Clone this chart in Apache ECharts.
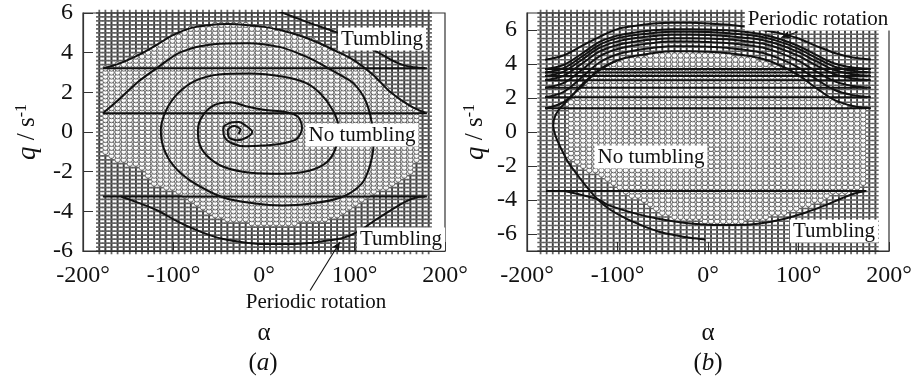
<!DOCTYPE html>
<html>
<head>
<meta charset="utf-8">
<title>Tumbling phase portraits</title>
<style>
  html, body { margin: 0; padding: 0; background: #fff; }
  #chart { width: 919px; height: 382px; }
</style>
<script src="https://cdn.jsdelivr.net/npm/echarts@6/dist/echarts.min.js"></script>
</head>
<body>
<div id="chart"></div>
<script>
  // ---- axes ----
  const xTicks = [-200, -100, 0, 100, 200];
  const yTicksA = [-6, -4, -2, 0, 2, 4, 6];
  const yTicksB = [-6, -4, -2, 0, 2, 4, 6];

  // ---- initial-condition lattice (alpha start, step, count / q start, step, count) ----
  const latticeA = { a0: -182, da: 6.74, na: 55, q0: -6, dq: 0.2, nq: 61 };
  const latticeB = { a0: -185, da: 6.727, na: 56, q0: -7, dq: 0.25, nq: 57 };

  // ---- "no tumbling" region: alpha, lower q, upper q ----
  const regionAlphaA = [-176, -160, -140, -120, -100, -80, -60, -40, -20, 0, 20, 40, 60, 80, 100, 120, 140, 160, 172];
  const regionLowA = [-1.1, -1.45, -1.75, -2.7, -3.0, -3.6, -4.2, -4.45, -4.6, -4.63, -4.63, -4.6, -4.5, -4.3, -3.8, -3.2, -2.7, -2.2, -1.2];
  const regionHighA = [3.25, 3.45, 3.85, 4.35, 4.9, 5.25, 5.4, 5.44, 5.4, 5.3, 5.12, 4.85, 4.5, 4.07, 3.6, 2.9, 2.0, 1.35, 1.0];

  const regionAlphaB = [-155, -140, -120, -100, -80, -60, -40, -20, 0, 20, 40, 60, 80, 100, 120, 140, 160, 174];
  const regionLowB = [-1.5, -2.0, -2.6, -3.3, -3.9, -4.6, -5.0, -5.2, -5.3, -5.3, -5.25, -5.1, -4.9, -4.5, -4.1, -3.7, -3.4, -3.2];
  const regionHighB = [1.7, 2.6, 3.6, 4.15, 4.4, 4.58, 4.65, 4.65, 4.62, 4.55, 4.42, 4.2, 3.8, 3.25, 2.5, 1.8, 1.45, 1.4];

  // ---- panel (a) trajectories [alpha, q] ----
  const wrapLinesA = [3.22, 0.95, -3.25];
  const wrapSpanA = [-178, 180];
  const topTumblingA = [[12, 6.15], [30, 5.85], [50, 5.5], [79, 5.05], [100, 4.65], [125, 4.04], [140, 3.65], [154, 3.37], [166, 3.27], [178, 3.22]];
  const outerA = [[-177, 3.22], [-160, 3.45], [-140, 3.85], [-120, 4.35], [-100, 4.9], [-80, 5.25], [-60, 5.4], [-40, 5.44], [-20, 5.4], [0, 5.3], [20, 5.12], [40, 4.85], [60, 4.5], [80, 4.07], [100, 3.6], [120, 2.9], [140, 2.0], [160, 1.35], [178, 0.97]];
  const spiralA = [[-178, 0.95], [-160, 1.65], [-140, 2.5], [-117, 3.27], [-92, 4.03], [-56, 4.43], [-18, 4.48], [18, 4.28], [44, 3.85], [62, 3.45], [85, 2.85], [99, 2.45], [112, 1.6], [119, 0.5], [121, -0.6], [117, -1.7], [108, -2.6], [85, -3.3], [50, -3.62], [20, -3.7], [-10, -3.6], [-45, -3.3], [-81, -2.46], [-100, -1.7], [-111, -0.8], [-114, 0.1], [-108, 1.1], [-95, 1.95], [-75, 2.6], [-50, 2.9], [-15, 2.95], [20, 2.8], [45, 2.5], [62, 1.95], [76, 1.1], [82, 0.3], [80, -0.7], [70, -1.5], [50, -1.95], [20, -2.1], [-15, -2.05], [-45, -1.75], [-63, -1.2], [-72, -0.5], [-73, 0.1], [-68, 0.8], [-55, 1.35], [-37, 1.5], [-20, 1.3], [0, 1.12], [25, 1.0], [38, 0.75], [42, 0.2], [36, -0.35], [20, -0.58], [0, -0.68], [-20, -0.72], [-35, -0.58], [-44, -0.22], [-45, 0.2], [-38, 0.45], [-28, 0.5], [-18, 0.25], [-13, 0], [-20, -0.3], [-30, -0.42], [-39, -0.25], [-40, 0.1], [-33, 0.3], [-26, 0.12], [-28, -0.1]];
  const bottomA = [[-158, -3.25], [-140, -3.55], [-117, -3.97], [-100, -4.4], [-81, -4.82], [-60, -5.2], [-45, -5.4], [-20, -5.58], [0, -5.65], [29, -5.65], [50, -5.6], [66, -5.5], [88, -5.33], [105, -5.0], [121, -4.5], [140, -3.95], [157, -3.5], [168, -3.3], [178, -3.25]];
  const arrowA = [[50.9, -7.99], [84, -5.55]];

  // ---- panel (b) trajectories ----
  const wrapLinesB = [3.7, 3.5, 3.3, 3.05, 2.6, 2.05, 1.4];
  const wrapSpanB = [-180, 176];
  const bundleAlpha = [-180, -160, -140, -120, -100, -80, -60, -40, -20, 0, 20, 40, 60, 80, 100, 120, 140, 160, 180];
  const periodicB = [4.25, 4.5, 5.05, 5.6, 6.05, 6.25, 6.38, 6.43, 6.42, 6.38, 6.32, 6.2, 6.0, 5.8, 5.5, 5.05, 4.65, 4.38, 4.27];
  const bundleB = [
    [3.7, 3.94, 4.59, 5.3, 5.67, 5.86, 5.98, 6.05, 6.05, 6.03, 5.98, 5.89, 5.74, 5.46, 5.06, 4.52, 4.03, 3.79, 3.7],
    [3.5, 3.74, 4.41, 5.13, 5.52, 5.71, 5.83, 5.9, 5.9, 5.88, 5.83, 5.73, 5.59, 5.3, 4.89, 4.34, 3.84, 3.6, 3.5],
    [3.3, 3.54, 4.22, 4.95, 5.33, 5.53, 5.65, 5.72, 5.72, 5.7, 5.65, 5.55, 5.41, 5.12, 4.7, 4.15, 3.64, 3.4, 3.3],
    [3.05, 3.3, 3.99, 4.73, 5.12, 5.32, 5.45, 5.52, 5.52, 5.5, 5.45, 5.35, 5.2, 4.9, 4.48, 3.91, 3.4, 3.15, 3.05],
    [2.6, 2.87, 3.63, 4.45, 4.88, 5.1, 5.24, 5.32, 5.32, 5.29, 5.24, 5.13, 4.97, 4.64, 4.18, 3.55, 2.98, 2.71, 2.6],
    [2.05, 2.35, 3.19, 4.09, 4.57, 4.81, 4.96, 5.05, 5.05, 5.02, 4.96, 4.84, 4.66, 4.3, 3.79, 3.1, 2.47, 2.17, 2.05],
    [1.4, 1.74, 2.67, 3.68, 4.21, 4.48, 4.65, 4.75, 4.75, 4.72, 4.65, 4.52, 4.31, 3.91, 3.34, 2.57, 1.87, 1.53, 1.4],
  ];
  const separatrixB = [[-3, -6.33], [-20, -6.22], [-36, -6.07], [-55, -5.85], [-73, -5.5], [-92, -5.05], [-110, -4.5], [-124, -3.85], [-136, -3.1], [-146, -2.4], [-155, -1.73], [-162, -1.0], [-168, -0.3], [-171, 0.4], [-168, 1.05], [-160, 1.6], [-150, 2.15], [-140, 2.75], [-125, 3.45], [-110, 3.95], [-100, 4.21]];
  const bottomLineB = -3.47;
  const bottomSpanB = [-179, 175];
  const bottomB = [[-158, -3.47], [-140, -3.7], [-120, -4.0], [-110, -4.3], [-80, -4.8], [-55, -5.1], [-25, -5.35], [0, -5.45], [30, -5.47], [55, -5.4], [85, -5.1], [110, -4.7], [130, -4.3], [148, -3.9], [162, -3.62], [174, -3.47]];
  const arrowB = [[99.4, 5.9], [81, 5.56]];

  const serif = '"Liberation Serif", "Times New Roman", "DejaVu Serif", serif';
  const ink = '#111';
  const frame = '#333';
  const plusPath = 'path://M0,2.2H2.2V0H3.8V2.2H6V3.8H3.8V6H2.2V3.8H0Z';

  const inRegion = (a, q, alphas, lows, highs) => {
    if (a < alphas[0] || a > alphas[alphas.length - 1]) return false;
    for (let i = 0; i < alphas.length - 1; i++) {
      if (a >= alphas[i] && a <= alphas[i + 1]) {
        const t = (a - alphas[i]) / (alphas[i + 1] - alphas[i]);
        const lo = lows[i] + t * (lows[i + 1] - lows[i]);
        const hi = highs[i] + t * (highs[i + 1] - highs[i]);
        return q >= lo && q <= hi;
      }
    }
    return false;
  };

  const splitLattice = (lat, alphas, lows, highs) => {
    const tumbling = [];
    const calm = [];
    for (let i = 0; i < lat.na; i++) {
      const a = lat.a0 + i * lat.da;
      for (let j = 0; j < lat.nq; j++) {
        const q = +(lat.q0 + j * lat.dq).toFixed(3);
        (inRegion(a, q, alphas, lows, highs) ? calm : tumbling).push([a, q]);
      }
    }
    return { tumbling, calm };
  };

  const gridA = splitLattice(latticeA, regionAlphaA, regionLowA, regionHighA);
  const gridB = splitLattice(latticeB, regionAlphaB, regionLowB, regionHighB);

  const markerSeries = (pts, idx) => [
    {
      type: 'scatter', xAxisIndex: idx, yAxisIndex: idx, data: pts.tumbling,
      symbol: plusPath, symbolSize: 6.5, silent: true, z: 1,
      itemStyle: { color: '#2a2a2a', opacity: 0.72 },
    },
    {
      type: 'scatter', xAxisIndex: idx, yAxisIndex: idx, data: pts.calm,
      symbol: 'circle', symbolSize: 5.4, silent: true, z: 1,
      itemStyle: { color: '#fff', borderColor: '#444', borderWidth: 1 },
    },
  ];

  const curve = (data, idx, smooth = 0.35, width = 2) => ({
    type: 'line', xAxisIndex: idx, yAxisIndex: idx, data,
    showSymbol: false, smooth, silent: true, z: 3,
    lineStyle: { color: ink, width },
  });

  const arrow = (pts, idx, rot) => ({
    type: 'line', xAxisIndex: idx, yAxisIndex: idx, clip: false, silent: true, z: 4,
    showSymbol: true, symbol: 'none',
    lineStyle: { color: ink, width: 1.1 },
    data: [
      { value: pts[0], symbol: 'none' },
      { value: pts[1], symbol: 'arrow', symbolSize: [6, 9], symbolRotate: rot, itemStyle: { color: ink } },
    ],
  });

  const series = [
    ...markerSeries(gridA, 0),
    ...wrapLinesA.map((q) => curve([[wrapSpanA[0], q], [wrapSpanA[1], q]], 0, false)),
    curve(topTumblingA, 0),
    curve(outerA, 0),
    curve(spiralA, 0, 0.3),
    curve(bottomA, 0),
    arrow(arrowA, 0, -32.5),

    ...markerSeries(gridB, 1),
    ...wrapLinesB.map((q) => curve([[wrapSpanB[0], q], [wrapSpanB[1], q]], 1, false)),
    curve([[bottomSpanB[0], bottomLineB], [bottomSpanB[1], bottomLineB]], 1, false),
    curve(bundleAlpha.map((a, i) => [a, periodicB[i]]), 1),
    ...bundleB.map((row) => curve(bundleAlpha.map((a, i) => [a, row[i]]), 1)),
    curve(separatrixB, 1),
    curve(bottomB, 1),
    arrow(arrowB, 1, 109.5),
  ];

  const xAxis = (idx) => ({
    gridIndex: idx, type: 'value', min: -200, max: 200, interval: 100,
    axisLine: { show: true, onZero: false, lineStyle: { color: frame, width: 1.2 } },
    axisTick: { show: true, inside: true, length: 9, lineStyle: { color: frame, width: 1 } },
    axisLabel: {
      formatter: (v) => v + '°', fontFamily: serif, fontSize: 24, color: ink, margin: 13,
      showMinLabel: true, showMaxLabel: true,
    },
    splitLine: { show: false },
    name: 'α', nameLocation: 'middle', nameGap: 70, nameMoveOverlap: false,
    nameTextStyle: { fontFamily: serif, fontSize: 25, color: ink },
  });

  const yAxis = (idx, min, max, ticks) => ({
    gridIndex: idx, type: 'value', min, max,
    axisLine: { show: true, onZero: false, lineStyle: { color: frame, width: 1.2 } },
    axisTick: { show: true, inside: true, length: 10, customValues: ticks, lineStyle: { color: frame, width: 1 } },
    axisLabel: {
      customValues: ticks, fontFamily: serif, fontSize: 24, color: ink, margin: 10,
      showMinLabel: true, showMaxLabel: true,
    },
    splitLine: { show: false },
    name: '{q|q} / s{sup|-1}', nameLocation: 'middle', nameRotate: 90, nameGap: idx === 0 ? 42 : 38,
    nameMoveOverlap: false,
    nameTextStyle: {
      fontFamily: serif, fontSize: 25, color: ink,
      rich: {
        q: { fontFamily: serif, fontStyle: 'italic', fontSize: 27, color: ink },
        sup: { fontFamily: serif, fontSize: 16, color: ink, verticalAlign: 'top' },
      },
    },
  });

  const boxLabel = (text, x, y, bg = '#fff') => ({
    type: 'text', x, y, z: 100, silent: true,
    style: {
      text, fill: ink, fontFamily: serif, fontSize: 21, align: 'center', verticalAlign: 'middle',
      backgroundColor: bg, padding: [2, 3, 0, 3],
    },
  });

  const panelTag = (letter, x, y) => ({
    type: 'text', x, y, z: 100, silent: true,
    style: {
      text: '{p|(}{i|' + letter + '}{p|)}', align: 'center', verticalAlign: 'middle',
      rich: {
        p: { fontFamily: serif, fontSize: 25, fill: ink },
        i: { fontFamily: serif, fontSize: 25, fontStyle: 'italic', fill: ink },
      },
    },
  });

  const chart = echarts.init(document.getElementById('chart'), null, { renderer: 'canvas' });
  chart.setOption({
    animation: false,
    backgroundColor: '#fff',
    grid: [
      { left: 83, top: 13, width: 362, height: 238, show: true, borderColor: frame, borderWidth: 1.2, backgroundColor: '#fff', outerBoundsMode: 'none' },
      { left: 527, top: 13, width: 362, height: 238, show: true, borderColor: frame, borderWidth: 1.2, backgroundColor: '#fff', outerBoundsMode: 'none' },
    ],
    xAxis: [xAxis(0), xAxis(1)],
    yAxis: [yAxis(0, -6, 6, yTicksA), yAxis(1, -7, 7, yTicksB)],
    series,
    graphic: [
      boxLabel('Tumbling', 382, 39),
      boxLabel('No tumbling', 362, 135),
      boxLabel('Tumbling', 401, 239),
      boxLabel('Periodic rotation', 316, 302, 'transparent'),
      boxLabel('Periodic rotation', 818, 19),
      boxLabel('No tumbling', 651, 157),
      boxLabel('Tumbling', 834, 231),
      panelTag('a', 263, 363),
      panelTag('b', 708, 363),
    ],
  });
</script>
</body>
</html>
